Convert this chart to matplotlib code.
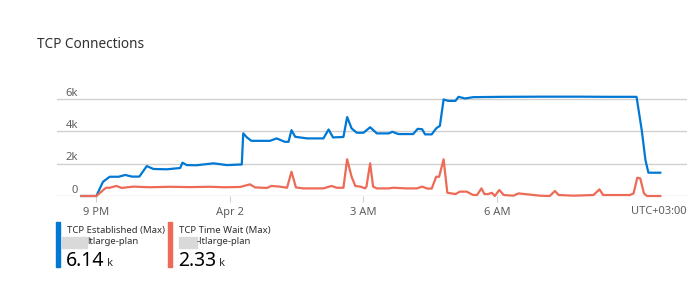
import matplotlib
matplotlib.use('Agg')
import matplotlib.pyplot as plt
import matplotlib.transforms as mtransforms
from matplotlib.patches import Rectangle

plt.rcParams['font.family'] = ['Noto Sans', 'DejaVu Sans']

# data: minutes after 9 PM
est_t = [-20, 0, 9, 18, 30, 39, 48, 58, 68, 77, 95, 113, 116, 122, 135, 158, 176, 196,
         198, 203, 209, 234, 243, 254, 259, 263, 268, 284, 306, 313, 319, 333, 338, 344,
         351, 360, 369, 378, 394, 399, 407, 427, 433, 439, 443, 452, 458, 463, 468, 474,
         484, 488, 497, 508, 547, 598, 652, 692, 728, 735, 740, 744, 760]
est_v = [0, 0, 880, 1190, 1190, 1300, 1200, 1200, 1850, 1670, 1650, 1730, 2060, 1910, 1900,
         2020, 1910, 1950, 3870, 3620, 3410, 3410, 3560, 3350, 3350, 4070, 3660, 3560, 3560,
         4110, 3620, 3650, 4880, 4180, 3910, 3910, 4250, 3870, 3870, 3970, 3830, 3830, 4150,
         4130, 3810, 3810, 4180, 4340, 5970, 5880, 5880, 6130, 6030, 6110, 6130, 6140, 6140,
         6130, 6130, 4070, 2220, 1440, 1440]

tw_t = [-20, 0, 13, 18, 27, 34, 50, 72, 99, 126, 153, 173, 194, 207, 214, 230, 236, 247,
        257, 263, 269, 279, 306, 317, 324, 333, 338, 344, 349, 356, 362, 364, 369, 373, 378,
        394, 400, 418, 432, 439, 446, 452, 458, 462, 468, 473, 484, 490, 499, 508, 513, 519,
        523, 528, 533, 537, 543, 549, 562, 569, 598, 611, 618, 623, 643, 670, 678, 683, 719,
        724, 729, 733, 738, 742, 760]
tw_v = [0, 0, 510, 510, 620, 500, 580, 540, 570, 550, 570, 540, 560, 720, 530, 500, 620, 580,
        510, 1500, 530, 470, 470, 620, 510, 510, 2270, 1190, 620, 580, 470, 580, 2020, 580, 470,
        470, 510, 470, 470, 580, 460, 460, 1190, 1190, 2270, 200, 120, 270, 270, 60, 60, 470,
        120, 120, 200, 0, 370, 60, 20, 160, 20, 0, 310, 60, 20, 60, 410, 60, 60,
        160, 1130, 1090, 160, 0, 0]

tick_labels = ['9 PM', 'Apr 2', '3 AM', '6 AM']
tick_pos = [0, 180, 360, 540]
y_ticks = [0, 2000, 4000, 6000]
y_labels = ['0', '2k', '4k', '6k']

legend_names = ['TCP Established (Max)', 'TCP Time Wait (Max)']
legend_sub = ['ltlarge-plan', '-ltlarge-plan']
legend_vals = ['6.14', '2.33']

blue = '#0078d4'
red = '#ed6a56'
grid_c = '#d2d0ce'
txt_c = '#605e5c'

fig = plt.figure(figsize=(6.99, 2.96), dpi=100)
W, H = 699, 296
ax = fig.add_axes([57 / W, 1 - 196 / H, 630 / W, (196 - 86) / H])
ax.set_xlim(-53, 796)
ax.set_ylim(0, 6800)

for y in y_ticks:
    ax.axhline(y, color=grid_c, lw=1, zorder=1)
ax.plot(est_t, est_v, color=blue, lw=1.6, zorder=3, solid_joinstyle='round', clip_on=False)
ax.plot(tw_t, tw_v, color=red, lw=1.6, zorder=3, solid_joinstyle='round', clip_on=False)

for s in ax.spines.values():
    s.set_visible(False)
ax.set_yticks([])
ax.set_xticks(tick_pos)
ax.set_xticklabels(tick_labels, fontsize=8, color=txt_c)
ax.tick_params(axis='x', length=4, color=grid_c, pad=4)

# y labels sit above grid lines, inside the plot
trans = mtransforms.blended_transform_factory(ax.transAxes, ax.transData)
for y, lab in zip(y_ticks, y_labels):
    ax.text(21 / 630, y + 20, lab, transform=trans, ha='right', va='bottom',
            fontsize=8, color=txt_c)

ax.text(1.0, -0.09, 'UTC+03:00', transform=ax.transAxes, ha='right', va='top',
        fontsize=8, color=txt_c)

fig.text(37 / W, 1 - 45 / H, 'TCP Connections', fontsize=9.8, color='#323130',
         va='center', ha='left')

# legend cards
cols = [blue, red]
xs = [56, 168]
sub_gray = [(62, 25), (179, 18)]
for i in range(2):
    x0 = xs[i]
    fig.patches.append(Rectangle((x0 / W, 1 - 267 / H), 4 / W, 45 / H,
                                 transform=fig.transFigure, color=cols[i]))
    fig.text((x0 + 11) / W, 1 - 230 / H, legend_names[i], fontsize=6.9,
             color='#323130', va='center')
    gx, gw = sub_gray[i]
    fig.patches.append(Rectangle((gx / W, 1 - 248 / H), gw / W, 11 / H,
                                 transform=fig.transFigure, color='#d9d9d9'))
    fig.text((gx + gw) / W, 1 - 242 / H, legend_sub[i], fontsize=6.9,
             color='#323130', va='center')
    t = fig.text((x0 + 10) / W, 1 - 266 / H, legend_vals[i], fontsize=14,
                 color='#000000', va='baseline')
    fig.canvas.draw()
    bb = t.get_window_extent()
    fig.text(bb.x1 / W + 3 / W, 1 - 266 / H, 'k', fontsize=8,
             color='#323130', va='baseline')

fig.savefig('out.png', dpi=100, facecolor='white')
